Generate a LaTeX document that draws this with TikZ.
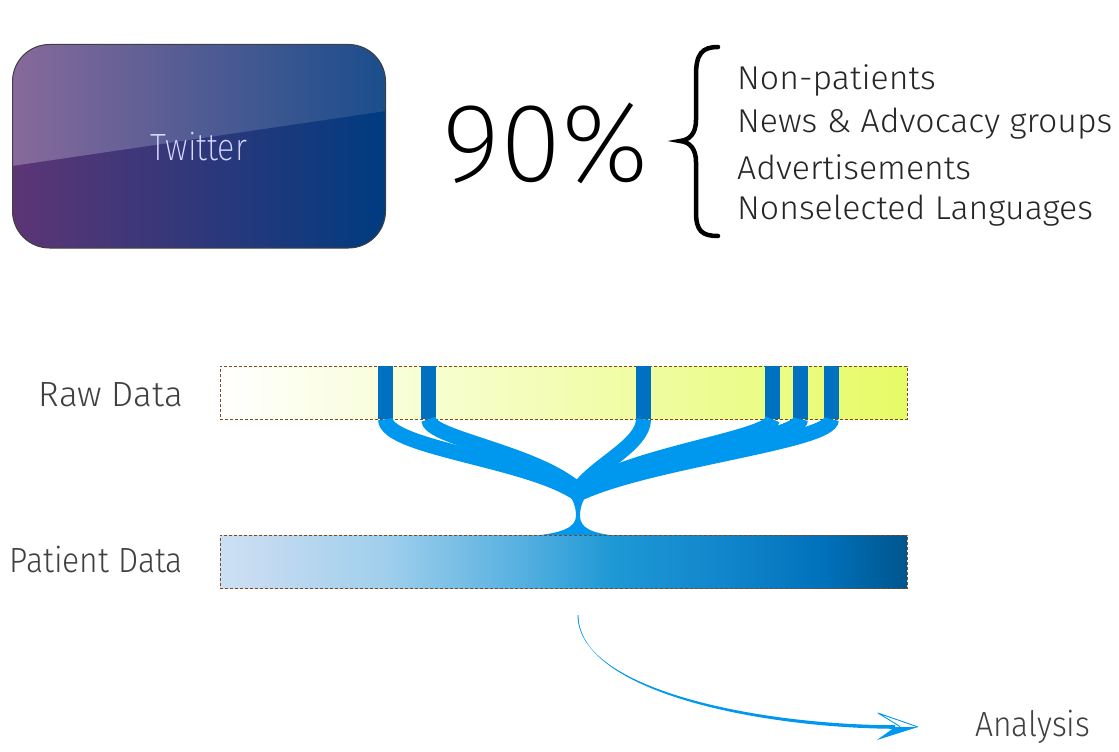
\documentclass[tikz,border=0pt]{standalone}
\usepackage{fontspec}
\setmainfont{Fira Sans Light}
\newfontfamily\xlight{Fira Sans ExtraLight}
\definecolor{flowblue}{HTML}{0097EF}
\definecolor{barblue}{HTML}{0070C0}
\definecolor{boxbrown}{HTML}{7B4A1E}
\definecolor{rawgreen}{HTML}{E6FB66}
\definecolor{twlowL}{HTML}{5D3575}
\definecolor{twlowM}{HTML}{0F1F5C}
\definecolor{twlowR}{HTML}{003B80}
\definecolor{twupL}{HTML}{88699B}
\definecolor{twupM}{HTML}{3A487B}
\definecolor{twupR}{HTML}{1A4E8C}
\definecolor{pA}{HTML}{CCE0F5}
\definecolor{pB}{HTML}{C8DCF2}
\definecolor{pC}{HTML}{A0CFEC}
\definecolor{pD}{HTML}{55B0E0}
\definecolor{pE}{HTML}{1E98D5}
\definecolor{pF}{HTML}{1185CB}
\definecolor{pG}{HTML}{0072BC}
\definecolor{pH}{HTML}{005A95}
\definecolor{pI}{HTML}{00558F}
\pgfdeclarehorizontalshading{patshade}{100bp}{%
  color(0bp)=(pA); color(25bp)=(pA); color(27bp)=(pB); color(37bp)=(pC);
  color(47bp)=(pD); color(53.6bp)=(pE); color(62bp)=(pF); color(68.7bp)=(pG);
  color(74bp)=(pH); color(75bp)=(pI); color(100bp)=(pI)}
\begin{document}
\begin{tikzpicture}[x=1pt,y=-1pt,
  lbl/.style={font=\fontsize{35}{40}\selectfont, text=black!75, inner sep=0pt},
  listtxt/.style={font=\fontsize{33}{36}\selectfont, text=black!85, anchor=west, inner sep=0pt},
  bar/.style={fill=barblue, draw=none, minimum width=15pt, minimum height=53pt, inner sep=0pt},
  strand/.style={draw=flowblue, line width=15pt},
  databox/.style={draw=boxbrown, dash pattern=on 3pt off 2pt, line width=0.8pt, minimum width=687pt, minimum height=53pt, inner sep=0pt},
]
\useasboundingbox (0,0) rectangle (1119,752);

% Twitter box
\begin{scope}
  \clip[rounded corners=37pt] (12.5,44.5) rectangle (385.5,248);
  \shade[left color=twlowL, middle color=twlowM, right color=twlowR] (12,44) rectangle (386,249);
  \shade[left color=twupL, middle color=twupM, right color=twupR] (12,44) -- (386,44) -- (386,111) -- (12,166) -- cycle;
\end{scope}
\node[draw=black!75, line width=1pt, rounded corners=37pt, minimum width=373pt, minimum height=203.5pt,
      text=white!85!blue, font=\xlight\fontsize{38}{40}\selectfont] (twitter) at (199,146.25) {\scalebox{0.85}[1]{Twitter}};

% 90% and brace
\node[font=\xlight\fontsize{112}{112}\selectfont, inner sep=0pt] (pct) at (546,143) {90\%};
\draw[line width=4.5pt, line cap=round] (718,47) .. controls (702,47) and (696,54) .. (696,75) -- (696,120)
  .. controls (696,133) and (690,140) .. (680,141) .. controls (690,142) and (696,149) .. (696,162) -- (696,212)
  .. controls (696,231) and (702,236) .. (718,236);

\node[listtxt] (l1) at (737,80) {\scalebox{1.025}[1]{Non-patients}};
\node[listtxt] (l2) at (737,124) {\scalebox{1.025}[1]{News \& Advocacy groups}};
\node[listtxt] (l3) at (737,167) {\scalebox{1.025}[1]{Advertisements}};
\node[listtxt] (l4) at (737,211) {\scalebox{1.025}[1]{Nonselected Languages}};

% labels
\node[lbl, anchor=east] (rawlbl) at (183,395) {Raw Data};
\node[lbl, anchor=east] (patlbl) at (183,560) {\scalebox{0.91}[1]{Patient Data}};

% raw data box and bars
\coordinate (m) at (578,490);
\node[databox, left color=white, right color=rawgreen] (raw) at (563.5,392.5) {};
\node[bar] (bar1) at (385.5,392.5) {};
\node[bar] (bar2) at (428.5,392.5) {};
\node[bar] (bar3) at (643.5,392.5) {};
\node[bar] (bar4) at (772.5,392.5) {};
\node[bar] (bar5) at (800.5,392.5) {};
\node[bar] (bar6) at (831.5,392.5) {};

% flow strands
\draw[strand] (bar1.south) .. controls (385.5,448) and (530,460) .. (578,494);
\draw[strand] (bar2.south) .. controls (428.5,438) and (535,452) .. (m);
\draw[strand] (bar3.south) .. controls (643.5,445) and (595,465) .. (m);
\draw[strand] (bar4.south) .. controls (772.5,438) and (640,452) .. (m);
\draw[strand] (bar5.south) .. controls (800.5,440) and (645,456) .. (578,492);
\draw[strand] (bar6.south) .. controls (831.5,442) and (650,460) .. (578,494);
\fill[flowblue] (556,482) .. controls (572,494) and (576,505) .. (576,516) .. controls (576,528) and (560,533) .. (536,535.5)
  -- (614,535.5) .. controls (592,533) and (580,528) .. (580,516) .. controls (580,505) and (584,494) .. (600,482) -- cycle;

\node[databox, shading=patshade] (patient) at (563.5,561.5) {};

% analysis arrow
\coordinate (astart) at (578,615);
\coordinate (aend) at (895,727);
\coordinate (tip) at (918,727);
\node[lbl, anchor=west] (analysis) at (975,727) {\scalebox{0.91}[1]{Analysis}};
\draw[flowblue!50, line width=0.5pt] (astart) .. controls (578,691) and (760,726.5) .. (aend);
\fill[flowblue] (577.6,615) .. controls (577.6,690) and (760,725) .. (895,725.2) -- (895,728.8)
  .. controls (760,728) and (578.4,692) .. (578.4,615) -- cycle;
\fill[flowblue] (tip) -- (877,740) -- (aend) -- cycle;
\draw[flowblue, line width=0.9pt, line join=round] (900,726.5) -- (878,713) -- (tip);
\end{tikzpicture}
\end{document}
